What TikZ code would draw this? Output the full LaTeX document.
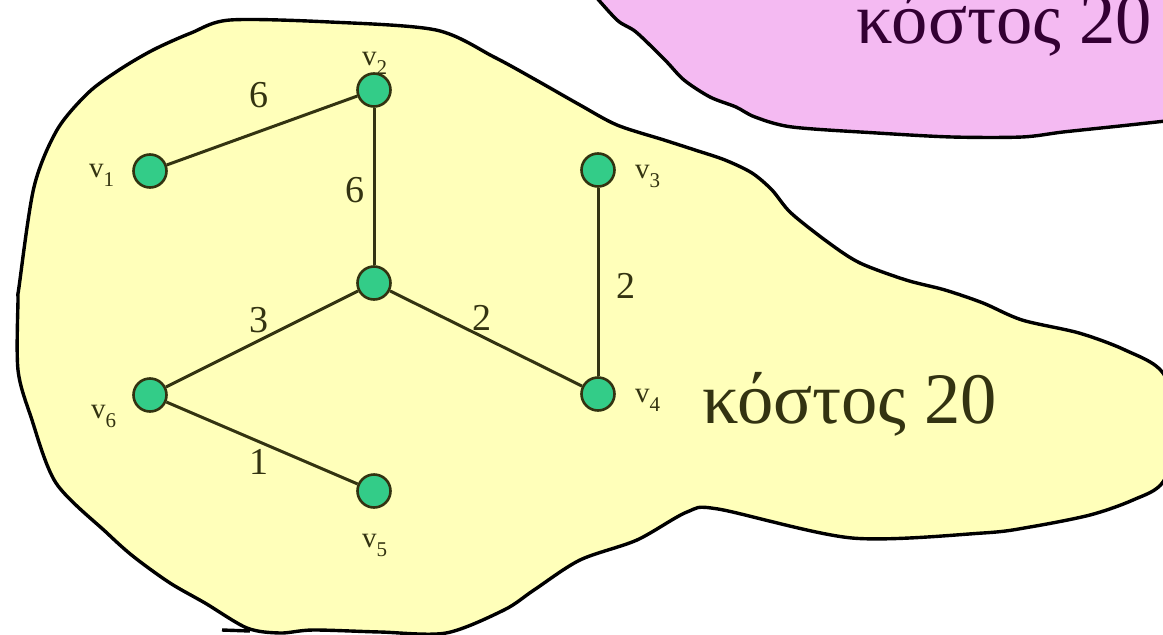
\documentclass[tikz,border=0pt]{standalone}
\usepackage{fontspec}
\setmainfont{Liberation Serif}
\definecolor{yfill}{HTML}{FFFFBA}
\definecolor{pfill}{HTML}{F4BAF2}
\definecolor{ngreen}{HTML}{33CC88}
\definecolor{olive}{HTML}{333311}
\definecolor{purp}{HTML}{330033}
\newcommand{\vlab}[1]{v\raisebox{-9pt}{\fontsize{21}{21}\selectfont #1}}
\tikzset{
  blobline/.style={draw=black, line width=3.4pt, line join=round},
  vert/.style={circle, minimum size=33pt, inner sep=0pt, fill=ngreen, draw=olive, line width=2.6pt},
  edge/.style={draw=olive, line width=3pt},
  vlabel/.style={inner sep=0pt, anchor=base west, text=olive, font=\fontsize{29}{29}\selectfont},
  wlabel/.style={inner sep=0pt, text=olive, font=\fontsize{38}{38}\selectfont},
  costlabel/.style={inner sep=0pt, font=\fontsize{72.5}{72.5}\selectfont}
}
\begin{document}
\begin{tikzpicture}[x=1pt,y=-1pt]
\useasboundingbox (0,0) rectangle (1163,635);
\clip (0,0) rectangle (1163,635);
\fill[white] (0,0) rectangle (1163,635);
% pink blob
\fill[pfill] plot[smooth, tension=0.5] coordinates {(590,-10) (617,20) (636,32) (665,60) (684,80) (710,97) (736,107) (755,117) (792,127) (877,133) (952,137) (1022,137) (1063,132) (1120,126) (1175,120)} -- (1175,-10) -- cycle;
\draw[blobline] plot[smooth, tension=0.5] coordinates {(590,-10) (617,20) (636,32) (665,60) (684,80) (710,97) (736,107) (755,117) (792,127) (877,133) (952,137) (1022,137) (1063,132) (1120,126) (1175,120)};
\node[costlabel, text=purp, anchor=base east] (c2) at (1152,43) {κόστος 20};
% yellow blob
\draw[blobline, fill=yfill] plot[smooth cycle, tension=0.5] coordinates {
(230,20) (330,22) (436,30) (494,57) (536,80) (580,105) (617,125) (664,140) (695,150) (725,160) (752,173) (772,190) (791,213) (829,243) (860,263) (906,280) (945,290) (983,303) (1022,320) (1079,333) (1125,350) (1163,373) (1180,430) (1163,482) (1133,500) (1090,515) (1030,527) (983,533) (852,538) (718,509) (687,512) (637,540) (580,560) (534,590) (504,610) (446,633) (380,632) (313,630) (280,633) (247,628) (205,603) (170,583) (134,557) (107,533) (56,483) (31,417) (18,370) (18,300) (19,287) (34,187) (57,130) (88,93) (119,70) (153,50) (191,33)};
\coordinate (t1) at (222,630);
\coordinate (t2) at (250,631);
\draw[blobline] (t1) -- (t2);
% graph
\node[vert] (v1) at (150,171) {};
\node[vert] (v2) at (374,90) {};
\node[vert] (c) at (374,283) {};
\node[vert] (v3) at (598,170) {};
\node[vert] (v4) at (598,394) {};
\node[vert] (v6) at (150,395) {};
\node[vert] (v5) at (374,491) {};
\draw[edge] (v1) -- (v2);
\draw[edge] (v2) -- (c);
\draw[edge] (c) -- (v6);
\draw[edge] (c) -- (v4);
\draw[edge] (v3) -- (v4);
\draw[edge] (v6) -- (v5);
% labels
\node[vlabel] (l1) at (89,177) {\vlab{1}};
\node[vlabel] (l2) at (362,65) {\vlab{2}};
\node[vlabel] (l3) at (635,178) {\vlab{3}};
\node[vlabel] (l4) at (635,402) {\vlab{4}};
\node[vlabel] (l5) at (362,547) {\vlab{5}};
\node[vlabel] (l6) at (91,418) {\vlab{6}};
\node[wlabel] (w12) at (259,95) {6};
\node[wlabel] (w2c) at (355,190) {6};
\node[wlabel] (wc6) at (259,320) {3};
\node[wlabel] (wc4) at (482,318) {2};
\node[wlabel] (w34) at (626,286) {2};
\node[wlabel] (w65) at (259,462) {1};
\node[costlabel, text=olive, anchor=base west] (c1) at (702,423) {κόστος 20};
\end{tikzpicture}
\end{document}
